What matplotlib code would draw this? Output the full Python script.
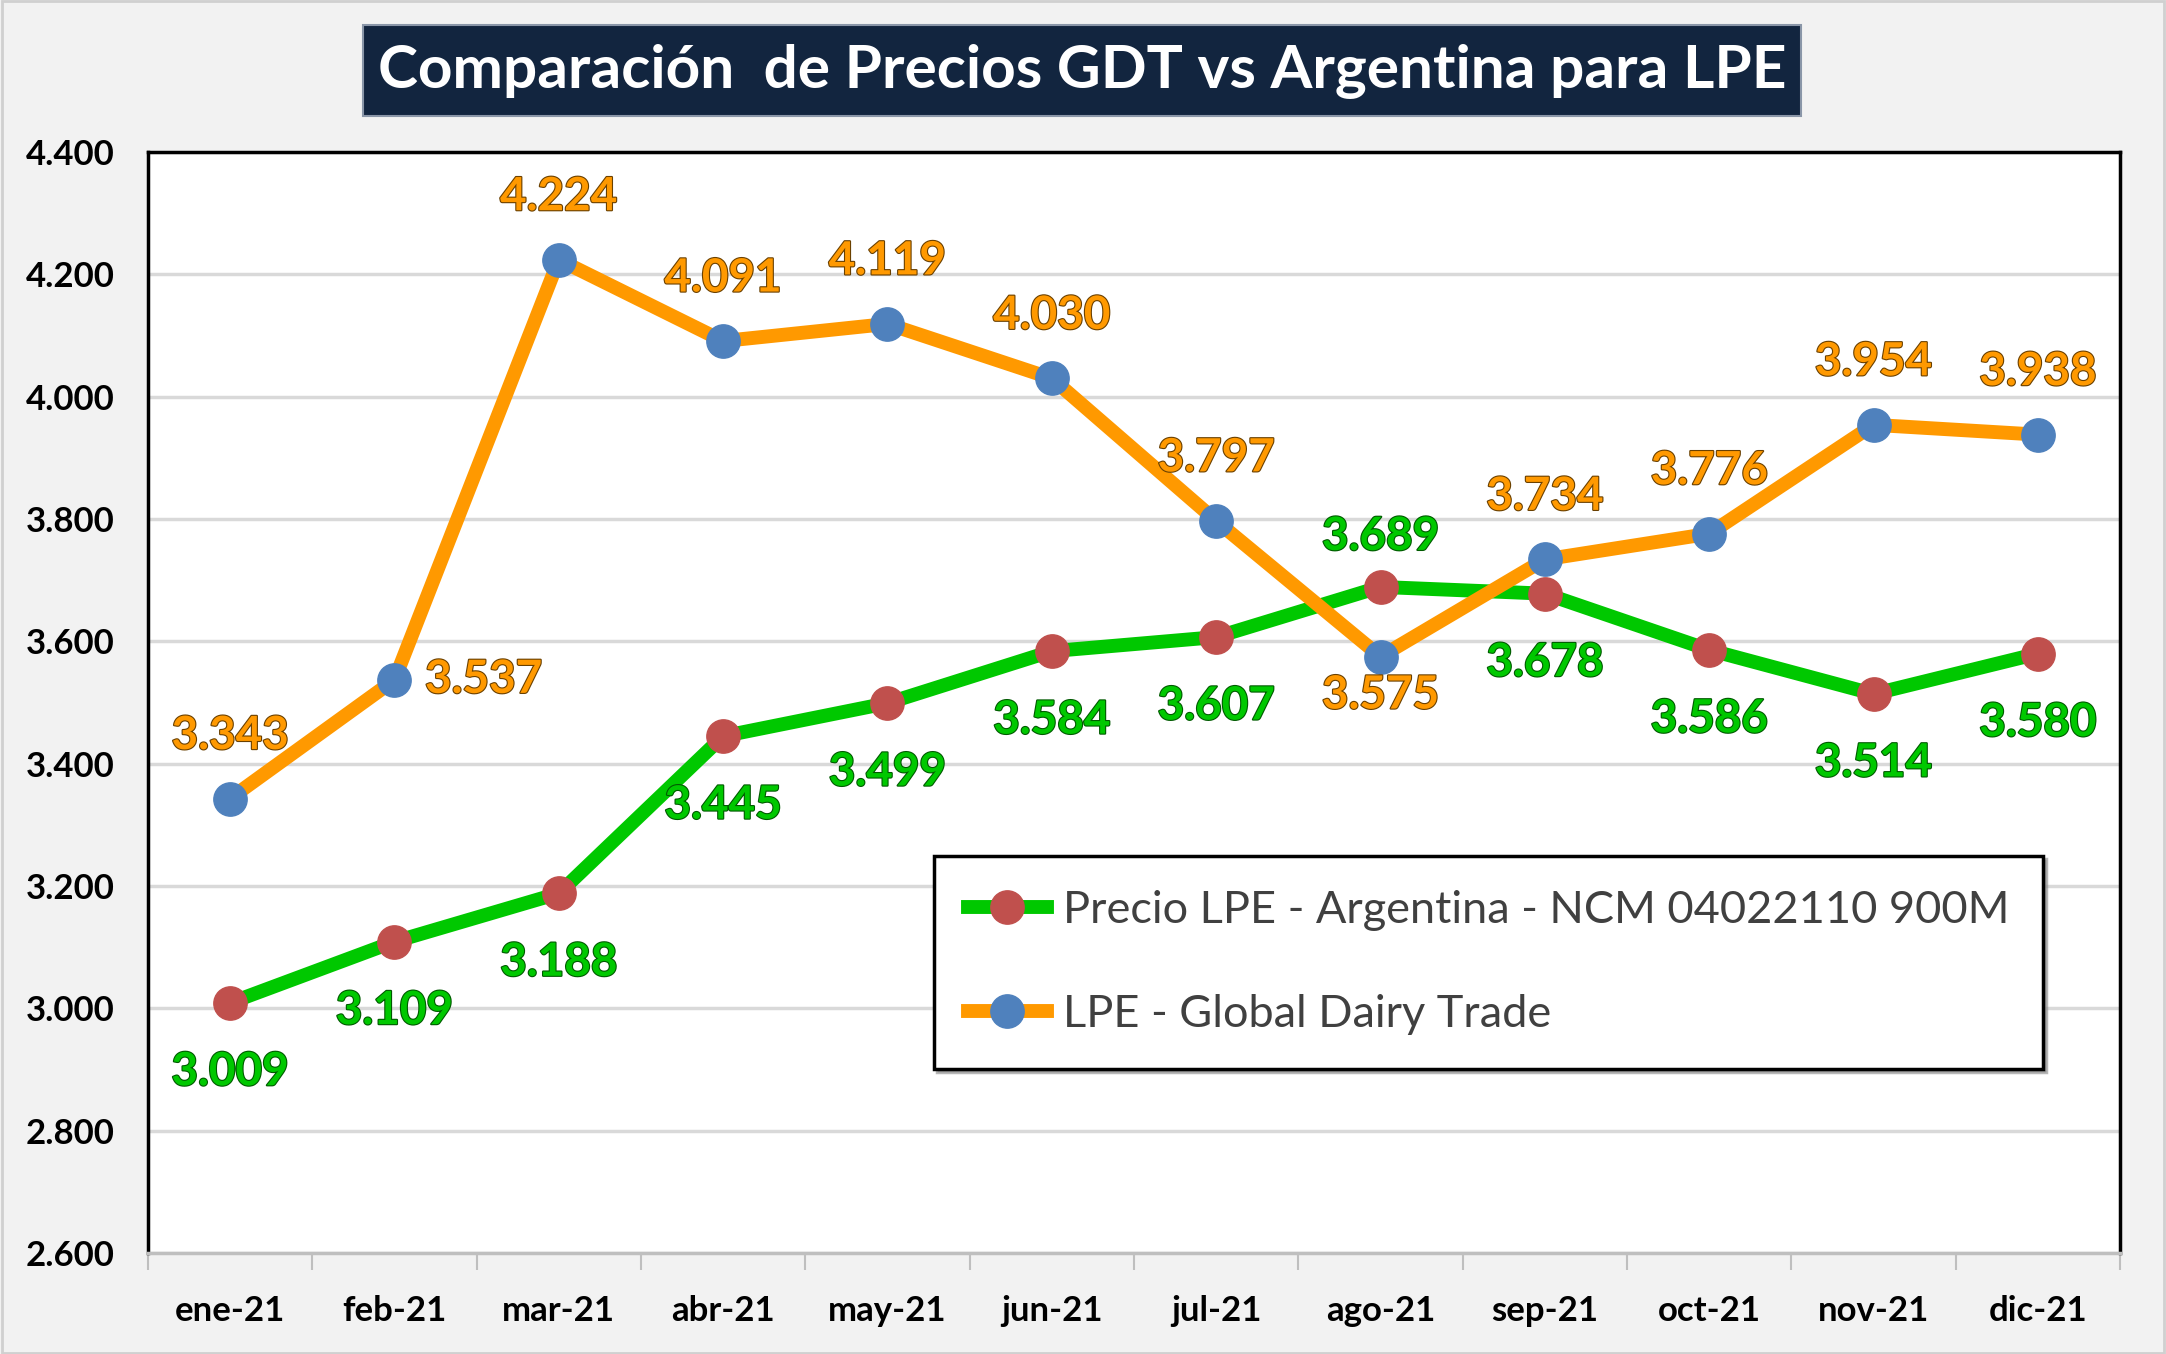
import matplotlib
matplotlib.use("Agg")
from matplotlib import pyplot as plt
from matplotlib.patches import Rectangle
import matplotlib.patheffects as pe
import matplotlib.ticker as mticker
import numpy as np

months = ['ene-21', 'feb-21', 'mar-21', 'abr-21', 'may-21', 'jun-21',
          'jul-21', 'ago-21', 'sep-21', 'oct-21', 'nov-21', 'dic-21']
precio_arg = [3009, 3109, 3188, 3445, 3499, 3584, 3607, 3689, 3678, 3586, 3514, 3580]
precio_gdt = [3343, 3537, 4224, 4091, 4119, 4030, 3797, 3575, 3734, 3776, 3954, 3938]
# where each data label goes: 'a' above, 'b' below, 'r' right,
# 'm' just above, 'n' just below
pos_arg = ['b', 'b', 'b', 'b', 'b', 'b', 'b', 'm', 'b', 'b', 'b', 'b']
pos_gdt = ['a', 'r', 'a', 'a', 'a', 'a', 'a', 'n', 'a', 'a', 'a', 'a']

plt.rcParams['font.family'] = ['Lato', 'DejaVu Sans']

GREEN = '#00C800'
ORANGE = '#FF9900'

def fmt(v):
    return '{:,}'.format(v).replace(',', '.')

fig = plt.figure(figsize=(21.66, 13.54), dpi=100, facecolor='#F2F2F2')
fig.patches.append(Rectangle((0.001, 0.001), 0.998, 0.998, transform=fig.transFigure,
                             fill=False, edgecolor='#D0D0D0', lw=2))

ax = fig.add_axes([0.0683, 0.0746, 0.9105, 0.8131])
x = np.arange(len(months))

ax.plot(x, precio_arg, color=GREEN, lw=10, marker='o', ms=24,
        markerfacecolor='#C0504D', markeredgecolor='#C0504D', zorder=3,
        label='Precio LPE - Argentina - NCM 04022110 900M')
ax.plot(x, precio_gdt, color=ORANGE, lw=10, marker='o', ms=24,
        markerfacecolor='#4F81BD', markeredgecolor='#4F81BD', zorder=4,
        label='LPE - Global Dairy Trade')

offs = {'a': (0, 45), 'b': (0, -50), 'r': (22, 0), 'm': (0, 36), 'n': (0, -28)}
for vals, poss, col, dark in [(precio_arg, pos_arg, GREEN, '#005A00'),
                              (precio_gdt, pos_gdt, ORANGE, '#6A4000')]:
    for i, (v, p) in enumerate(zip(vals, poss)):
        dx, dy = offs[p]
        ax.annotate(fmt(v), (i, v), xytext=(dx, dy), textcoords='offset points',
                    ha='left' if p == 'r' else 'center', va='center',
                    fontsize=33, fontweight='bold', color=col,
                    path_effects=[pe.withStroke(linewidth=1.6, foreground=dark)],
                    zorder=5)

ax.set_xlim(-0.5, 11.5)
ax.set_ylim(2600, 4400)
ax.yaxis.set_major_locator(mticker.MultipleLocator(200))
ax.yaxis.set_major_formatter(mticker.FuncFormatter(lambda v, p: fmt(int(v))))
ax.grid(axis='y', color='#D9D9D9', lw=2.5)
ax.set_axisbelow(True)

ax.set_xticks(x)
ax.set_xticklabels(months)
ax.set_xticks(np.arange(-0.5, 12, 1), minor=True)
ax.tick_params(axis='x', which='major', length=0, pad=30, labelsize=25)
ax.tick_params(axis='x', which='minor', length=12, width=1.5, color='#BFBFBF')
ax.tick_params(axis='y', length=0, pad=24, labelsize=25)
for t in ax.get_xticklabels() + ax.get_yticklabels():
    t.set_fontweight('bold')

for s in ['left', 'top', 'right']:
    ax.spines[s].set_color('black')
    ax.spines[s].set_linewidth(2.5)
ax.spines['bottom'].set_color('#BFBFBF')
ax.spines['bottom'].set_linewidth(2.5)

leg = ax.legend(loc='upper left', bbox_to_anchor=(0.3986, 0.3606), fontsize=32.5,
                frameon=True, fancybox=False, shadow={'color': '#888888', 'alpha': 0.6},
                edgecolor='black', borderpad=0.75, labelspacing=1.4,
                handlelength=1.75, handletextpad=0.35, borderaxespad=0)
leg.get_frame().set_linewidth(2.5)
for t in leg.get_texts():
    t.set_color('#404040')

# title box
fig.patches.append(Rectangle((0.1676, 0.9143), 0.664, 0.0672, transform=fig.transFigure,
                             facecolor='#12253F', edgecolor='#8A96A8', lw=1.5))
fig.text(0.4995, 0.947, 'Comparación  de Precios GDT vs Argentina para LPE',
         ha='center', va='center', color='white', fontsize=43.5, fontweight='bold')

fig.savefig('out.png', dpi=100, facecolor=fig.get_facecolor())
